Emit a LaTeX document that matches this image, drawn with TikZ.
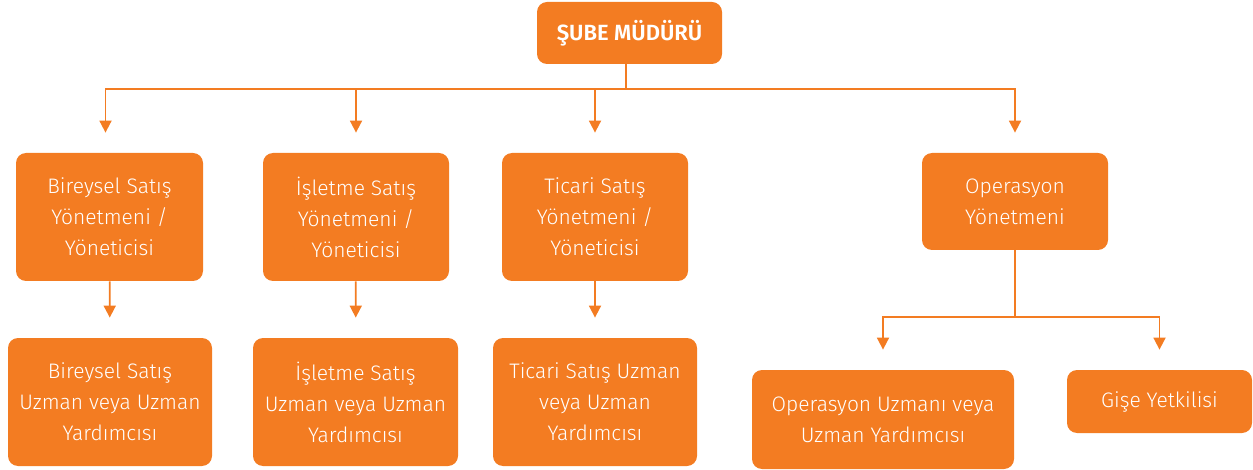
\documentclass[tikz,border=0pt]{standalone}
\usepackage{fontspec}
\setmainfont{Fira Sans Light}[BoldFont={Fira Sans SemiBold}]
\usepackage{tikz}
\usetikzlibrary{positioning,arrows.meta}
\definecolor{subeorange}{RGB}{243,124,34}
\tikzset{orgbox/.style={rectangle, rounded corners=5pt, fill=subeorange,
  text=white, align=center, inner sep=2pt, font=\fontsize{10.5}{15.5}\selectfont}}
\tikzset{orgline/.style={draw=subeorange, line width=0.9pt}}
\tikzset{orgarrow/.style={orgline, -{Triangle[width=6pt,length=6pt]}, shorten >=10pt}}

\begin{document}
\begin{tikzpicture}[x=0.5pt,y=-0.5pt]
  \useasboundingbox (0,0) rectangle (1253,470);
  % manager
  \node[orgbox, minimum width=92.5pt, minimum height=31pt, font=\fontsize{11}{12}\selectfont\bfseries] (mgr) at (629.5,33) {ŞUBE MÜDÜRÜ};
  % second row
  \node[orgbox, minimum width=93.5pt, minimum height=64pt] (bir) at (109.5,217) {Bireysel Satış\\Yönetmeni /\\Yöneticisi};
  \node[orgbox, minimum width=93pt, minimum height=64pt] (isl) at (356,217) {İşletme Satış\\Yönetmeni /\\Yöneticisi};
  \node[orgbox, minimum width=93pt, minimum height=64pt] (tic) at (595,217) {Ticari Satış\\Yönetmeni /\\Yöneticisi};
  \node[orgbox, minimum width=93pt, minimum height=48.5pt] (ops) at (1015,201.5) {Operasyon\\Yönetmeni};
  % third row
  \node[orgbox, minimum width=102pt, minimum height=64pt] (biru) at (110,402) {Bireysel Satış\\Uzman veya Uzman\\Yardımcısı};
  \node[orgbox, minimum width=102.5pt, minimum height=64pt] (islu) at (355.5,402) {İşletme Satış\\Uzman veya Uzman\\Yardımcısı};
  \node[orgbox, minimum width=102pt, minimum height=64pt] (ticu) at (595,402) {Ticari Satış Uzman\\veya Uzman\\Yardımcısı};
  \node[orgbox, minimum width=131pt, minimum height=49.5pt] (opsu) at (883,419.5) {Operasyon Uzmanı veya\\Uzman Yardımcısı};
  \node[orgbox, minimum width=92.5pt, minimum height=31.5pt] (gise) at (1159.5,401.5) {Gişe Yetkilisi};
  % connectors
  \coordinate (bus) at (626,89);
  \coordinate (opsbus) at (1015,317);
  \draw[orgline] (mgr.south -| bus) -- (bus);
  \draw[orgarrow] (bus) -| ([xshift=-2pt]bir.north);
  \draw[orgarrow] (bus) -| (isl.north);
  \draw[orgarrow] (bus) -| (tic.north);
  \draw[orgarrow] (bus) -| (ops.north);
  \draw[orgarrow] (bir) -- (biru);
  \draw[orgarrow] (isl) -- (islu);
  \draw[orgarrow] (tic) -- (ticu);
  \draw[orgline] (ops) -- (opsbus);
  \draw[orgarrow] (opsbus) -| (opsu.north);
  \draw[orgarrow] (opsbus) -| (gise.north);
\end{tikzpicture}
\end{document}
